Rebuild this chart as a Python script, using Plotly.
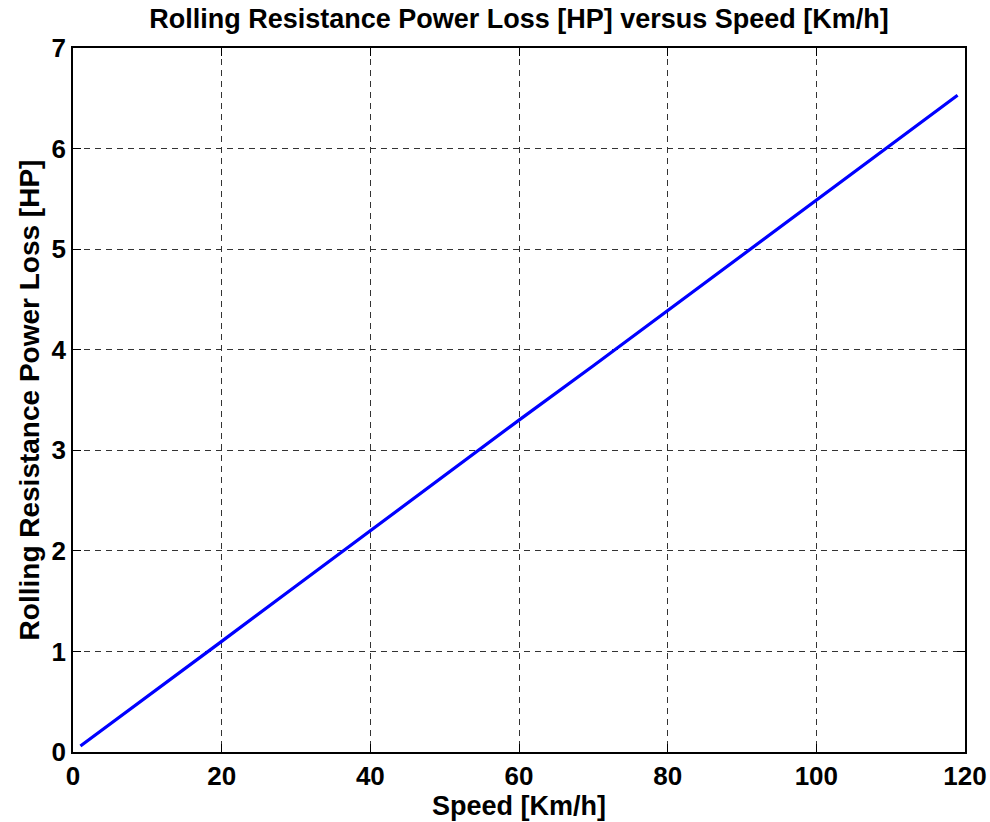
import plotly.graph_objects as go

speed_kmh = [1, 10, 20, 30, 40, 50, 60, 70, 80, 90, 100, 110, 119]
power_hp = [0.06, 0.55, 1.10, 1.65, 2.20, 2.75, 3.30, 3.84, 4.39, 4.94, 5.49, 6.04, 6.53]
x_ticks = [0, 20, 40, 60, 80, 100, 120]
y_ticks = [0, 1, 2, 3, 4, 5, 6, 7]

FONT = "Liberation Sans, Arial, sans-serif"

fig = go.Figure()
fig.add_trace(go.Scatter(x=speed_kmh, y=power_hp, mode="lines",
                         line=dict(color="#0000FF", width=3.2)))

axis_common = dict(
    showline=True, linecolor="black", linewidth=1.5, mirror="ticks",
    ticks="inside", ticklen=8, tickwidth=1, tickcolor="black",
    showgrid=True, gridcolor="#333333", gridwidth=1, griddash="6px,5px",
    zeroline=False, automargin=False,
    tickfont=dict(family=FONT, size=26, color="black", weight="bold"),
)

W, H = 990, 822

fig.update_layout(
    width=W, height=H,
    margin=dict(l=73, r=25, t=48, b=70),
    paper_bgcolor="white", plot_bgcolor="white",
    showlegend=False,
    title=dict(text="<b>Rolling Resistance Power Loss [HP] versus Speed [Km/h]</b>",
               font=dict(family=FONT, size=27, color="black"),
               x=0.5, xref="paper", xanchor="center",
               y=1 - 19 / H, yref="container", yanchor="middle"),
    xaxis=dict(range=[0, 120], tickvals=x_ticks,
               title=dict(text="<b>Speed [Km/h]</b>", standoff=2,
                          font=dict(family=FONT, size=27, color="black")),
               **axis_common),
    yaxis=dict(range=[0, 7], tickvals=y_ticks,
               title=dict(text="<b>Rolling Resistance Power Loss [HP]</b>", standoff=4,
                          font=dict(family=FONT, size=28, color="black")),
               **axis_common),
)

fig.write_html("out.html",
               config={"displayModeBar": False},
               post_script="document.body.style.margin='0';document.body.style.overflow='hidden';")
